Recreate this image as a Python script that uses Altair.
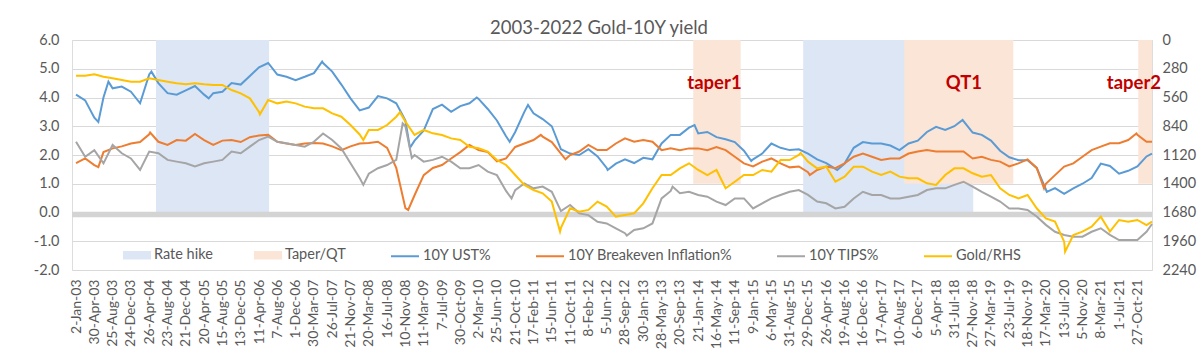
import altair as alt
import pandas as pd

# ---- data ----
# x position in "label steps": 0 = 2-Jan-03, 1 = 30-Apr-03, ... (one step per axis label)
T = [i * 0.5 for i in range(118)] + [58.8]

UST = [4.10, 3.90, 3.30, 4.00, 4.32, 4.38, 4.20, 3.80, 4.80, 4.50,
       4.15, 4.10, 4.25, 4.40, 4.10, 4.15, 4.20, 4.50, 4.45, 4.75,
       5.05, 5.20, 4.80, 4.72, 4.60, 4.72, 4.85, 5.20, 4.90, 4.45,
       3.97, 3.55, 3.65, 4.05, 3.97, 3.80, 3.20, 2.50, 2.85, 3.60,
       3.75, 3.50, 3.70, 3.80, 3.95, 3.60, 3.20, 2.65, 2.80, 3.50,
       3.45, 3.25, 3.00, 2.20, 2.05, 2.00, 2.20, 1.95, 1.55, 1.70,
       1.85, 1.72, 1.90, 1.85, 2.40, 2.70, 2.70, 2.95, 2.75, 2.80,
       2.62, 2.55, 2.45, 2.15, 1.85, 2.05, 2.40, 2.25, 2.17, 2.20,
       2.05, 1.85, 1.72, 1.52, 1.70, 2.25, 2.45, 2.40, 2.40, 2.33,
       2.17, 2.40, 2.50, 2.80, 2.98, 2.87, 3.00, 3.18, 2.78, 2.70,
       2.50, 2.15, 1.92, 1.82, 1.82, 1.55, 0.80, 0.85, 0.65, 0.84,
       1.00, 1.20, 1.70, 1.62, 1.35, 1.45, 1.60, 1.95, 2.05]
UST_PEAK_T = [1.22, 1.77, 4.12, 7.25, 13.45, 18.25, 21.9, 23.7, 24.7, 29.05, 33.8, 36.9, 41.6, 48.45, 53.05]
UST_PEAK_V = [3.15, 4.55, 4.90, 3.97, 5.25, 2.25, 4.00, 2.46, 3.74, 1.48, 3.04, 1.79, 1.48, 3.22, 0.72]

BEI = [1.72, 1.88, 1.65, 2.10, 2.23, 2.30, 2.40, 2.45, 2.72, 2.46,
       2.35, 2.52, 2.50, 2.73, 2.52, 2.35, 2.50, 2.52, 2.45, 2.62,
       2.68, 2.70, 2.46, 2.40, 2.35, 2.40, 2.42, 2.40, 2.30, 2.17,
       2.30, 2.40, 2.42, 2.46, 2.25, 1.55, 0.15, 0.60, 1.30, 1.55,
       1.65, 1.88, 2.10, 2.35, 2.17, 2.10, 1.78, 1.88, 2.28, 2.40,
       2.52, 2.64, 2.45, 2.05, 2.00, 2.12, 2.35, 2.17, 2.17, 2.40,
       2.58, 2.46, 2.52, 2.46, 2.17, 2.23, 2.17, 2.23, 2.23, 2.17,
       2.28, 2.17, 1.94, 1.71, 1.60, 1.77, 1.88, 1.71, 1.57, 1.60,
       1.40, 1.48, 1.60, 1.54, 1.71, 1.94, 2.05, 1.94, 1.83, 1.88,
       1.88, 2.05, 2.12, 2.17, 2.12, 2.12, 2.12, 2.12, 1.88, 1.94,
       1.83, 1.77, 1.60, 1.71, 1.85, 1.55, 1.00, 1.30, 1.60, 1.71,
       1.94, 2.17, 2.29, 2.41, 2.41, 2.52, 2.70, 2.46, 2.46]
BEI_PEAK_T = [1.22, 4.05, 18.15, 25.4, 26.75, 40.1, 52.9, 57.95]
BEI_PEAK_V = [1.58, 2.78, 0.09, 2.70, 1.85, 1.30, 0.84, 2.75]

TIPS = [2.46, 1.94, 2.17, 1.71, 2.35, 2.06, 1.88, 1.48, 2.12, 2.06,
        1.83, 1.77, 1.71, 1.60, 1.71, 1.77, 1.83, 2.12, 2.06, 2.29,
        2.52, 2.64, 2.46, 2.41, 2.35, 2.29, 2.46, 2.75, 2.52, 2.23,
        1.71, 1.20, 1.35, 1.54, 1.65, 1.83, 3.00, 2.00, 1.77, 1.83,
        1.94, 1.77, 1.54, 1.54, 1.65, 1.42, 1.30, 0.75, 0.78, 1.01,
        0.84, 0.90, 0.72, 0.05, 0.26, -0.03, -0.09, -0.32, -0.38, -0.55,
        -0.72, -0.61, -0.55, -0.38, 0.49, 0.75, 0.67, 0.72, 0.61, 0.55,
        0.38, 0.26, 0.49, 0.49, 0.14, 0.32, 0.49, 0.61, 0.72, 0.78,
        0.61, 0.38, 0.32, 0.14, 0.20, 0.49, 0.72, 0.61, 0.61, 0.49,
        0.49, 0.55, 0.61, 0.78, 0.84, 0.84, 0.96, 1.07, 0.90, 0.72,
        0.55, 0.38, 0.14, 0.14, 0.09, -0.14, -0.43, -0.67, -0.78, -0.84,
        -0.84, -0.67, -0.55, -0.78, -0.96, -0.96, -0.96, -0.67, -0.40]
TIPS_PEAK_T = [15.7, 17.85, 18.35, 23.8, 30.1, 32.6]
TIPS_PEAK_V = [0.96, 3.10, 1.90, 0.49, -0.80, 0.90]

GOLD = [347, 347, 334, 357, 373, 390, 406, 406, 373, 390,
        406, 422, 432, 422, 432, 438, 438, 487, 519, 568,
        700, 584, 617, 600, 617, 649, 665, 665, 714, 747,
        828, 920, 876, 876, 828, 747, 795, 925, 876, 909,
        925, 958, 974, 1039, 1055, 1087, 1169, 1217, 1315, 1412,
        1461, 1493, 1574, 1830, 1639, 1672, 1655, 1574, 1623, 1720,
        1704, 1688, 1591, 1444, 1315, 1315, 1250, 1201, 1266, 1315,
        1266, 1444, 1380, 1315, 1315, 1266, 1282, 1169, 1169, 1120,
        1185, 1250, 1234, 1380, 1331, 1234, 1234, 1282, 1315, 1282,
        1331, 1347, 1347, 1396, 1412, 1315, 1250, 1250, 1298, 1331,
        1315, 1444, 1509, 1542, 1509, 1639, 1737, 1769, 1964, 1899,
        1866, 1818, 1720, 1866, 1753, 1769, 1753, 1802, 1769]
GOLD_PEAK_T = [10.05, 15.7, 17.7, 26.45, 39.6, 54.05]
GOLD_PEAK_V = [724, 974, 704, 1866, 1100, 2061]

LABELS = ["2-Jan-03", "30-Apr-03", "25-Aug-03", "24-Dec-03", "26-Apr-04", "23-Aug-04",
          "21-Dec-04", "20-Apr-05", "15-Aug-05", "13-Dec-05", "11-Apr-06", "7-Aug-06",
          "1-Dec-06", "30-Mar-07", "26-Jul-07", "21-Nov-07", "20-Mar-08", "16-Jul-08",
          "10-Nov-08", "11-Mar-09", "7-Jul-09", "30-Oct-09", "2-Mar-10", "25-Jun-10",
          "21-Oct-10", "17-Feb-11", "15-Jun-11", "11-Oct-11", "8-Feb-12", "5-Jun-12",
          "28-Sep-12", "30-Jan-13", "28-May-13", "20-Sep-13", "21-Jan-14", "16-May-14",
          "11-Sep-14", "9-Jan-15", "6-May-15", "31-Aug-15", "29-Dec-15", "26-Apr-16",
          "19-Aug-16", "16-Dec-16", "17-Apr-17", "10-Aug-17", "6-Dec-17", "5-Apr-18",
          "31-Jul-18", "27-Nov-18", "27-Mar-19", "23-Jul-19", "18-Nov-19", "17-Mar-20",
          "13-Jul-20", "5-Nov-20", "8-Mar-21", "1-Jul-21", "27-Oct-21"]

BAND_TYPE = ["Rate hike", "Taper/QT", "Rate hike", "Taper/QT", "Taper/QT"]
BAND_START = [4.37, 33.73, 39.74, 45.26, 58.05]
BAND_END = [10.55, 36.32, 49.03, 51.22, 58.8]
BAND_TOP = [6, 6, 6, 6, 6]
BAND_BOTTOM = [0, 1, 0, 1, 1]

ANN_TEXT = ["taper1", "QT1", "taper2"]
ANN_T = [34.89, 48.52, 57.81]
ANN_Y = [4.5, 4.5, 4.5]

SERIES = ["10Y UST%", "10Y Breakeven Inflation%", "10Y TIPS%", "Gold/RHS"]
COLORS = ["#5b9bd5", "#ed7d31", "#a5a5a5", "#ffc000"]


# ---- tables ----
def series_frame(name, values, peak_t, peak_v):
    df = pd.DataFrame({"t": T + peak_t, "value": values + peak_v})
    df["series"] = name
    return df.sort_values("t").reset_index(drop=True)


lines_df = pd.concat([
    series_frame(SERIES[0], UST, UST_PEAK_T, UST_PEAK_V),
    series_frame(SERIES[1], BEI, BEI_PEAK_T, BEI_PEAK_V),
    series_frame(SERIES[2], TIPS, TIPS_PEAK_T, TIPS_PEAK_V),
], ignore_index=True)
gold_df = series_frame(SERIES[3], GOLD, GOLD_PEAK_T, GOLD_PEAK_V)
bands_df = pd.DataFrame({"type": BAND_TYPE, "start": BAND_START, "end": BAND_END,
                         "top": BAND_TOP, "bottom": BAND_BOTTOM})
ann_df = pd.DataFrame({"label": ANN_TEXT, "t": ANN_T, "y": ANN_Y})
zero_df = pd.DataFrame({"value": [0]})

FONT = "Lato"
GREY = "#595959"

label_expr = "[" + ",".join("'%s'" % s for s in LABELS) + "][datum.value]"
x_scale = alt.Scale(domain=[-0.22, 58.8], nice=False, zero=False)
x_axis = alt.Axis(values=list(range(len(LABELS))), labelExpr=label_expr, labelAngle=-90,
                  ticks=False, domain=False, grid=False, labelPadding=9, title=None,
                  labelFontSize=14, labelColor=GREY, labelFont=FONT, labelOverlap=False,
                  labelFlush=False)

y_scale = alt.Scale(domain=[-2, 6], nice=False, zero=False)
y_axis = alt.Axis(values=[-2, -1, 0, 1, 2, 3, 4, 5, 6], orient="left",
                  labelExpr="datum.value < 0 ? '-' + format(-datum.value, '.1f') : format(datum.value, '.1f')",
                  grid=True, gridColor="#d9d9d9", gridWidth=1, ticks=False, domain=False,
                  labelPadding=13, title=None, labelFontSize=14.5, labelColor=GREY, labelFont=FONT)

bands = alt.Chart(bands_df).mark_rect().encode(
    x=alt.X("start:Q", scale=x_scale, axis=x_axis),
    x2="end:Q",
    y=alt.Y("top:Q", scale=y_scale, axis=y_axis),
    y2="bottom:Q",
    fill=alt.Fill("type:N",
                  scale=alt.Scale(domain=["Rate hike", "Taper/QT"], range=["#dce6f4", "#fbe5d6"]),
                  legend=alt.Legend(title=None, orient="none", legendX=51, legendY=201,
                                    direction="horizontal",
                                    symbolType="M-1,-0.3L1,-0.3L1,0.3L-1,0.3Z",
                                    symbolSize=784, symbolStrokeWidth=0,
                                    labelFontSize=14.5, labelColor=GREY, labelFont=FONT,
                                    labelLimit=0, columnPadding=41, labelOffset=3, padding=0)),
)

zero_rule = alt.Chart(zero_df).mark_rule(color="#d4d4d4", strokeWidth=5.5, yOffset=2).encode(
    y=alt.Y("value:Q", scale=y_scale, axis=y_axis)
)

color_enc = alt.Color("series:N", scale=alt.Scale(domain=SERIES, range=COLORS),
                      legend=alt.Legend(title=None, orient="none", legendX=318, legendY=201,
                                        direction="horizontal", symbolType="stroke",
                                        symbolSize=784, symbolStrokeWidth=2,
                                        labelFontSize=14.5, labelColor=GREY, labelFont=FONT,
                                        labelLimit=0, columnPadding=40, labelOffset=3,
                                        padding=0))

lines = alt.Chart(lines_df).mark_line(strokeWidth=2).encode(
    x=alt.X("t:Q", scale=x_scale, axis=x_axis),
    y=alt.Y("value:Q", scale=y_scale, axis=y_axis),
    color=color_enc,
)

ann = alt.Chart(ann_df).mark_text(font=FONT, fontWeight="bold", fontSize=18.5,
                                  color="#c00000", baseline="middle", align="center").encode(
    x=alt.X("t:Q", scale=x_scale, axis=x_axis),
    y=alt.Y("y:Q", scale=y_scale, axis=y_axis),
    text="label:N",
)

gold = alt.Chart(gold_df).mark_line(strokeWidth=2).encode(
    x=alt.X("t:Q", scale=x_scale, axis=x_axis),
    y=alt.Y("value:Q",
            scale=alt.Scale(domain=[0, 2240], reverse=True, nice=False, zero=False),
            axis=alt.Axis(orient="right", values=[0, 280, 560, 840, 1120, 1400, 1680, 1960, 2240],
                          format="d", grid=False, ticks=False, domain=False, labelPadding=10,
                          title=None, labelFontSize=14.5, labelColor=GREY, labelFont=FONT)),
    color=color_enc,
)

left = alt.layer(bands, zero_rule, lines, ann)

chart = alt.layer(left, gold).resolve_scale(y="independent").properties(
    width=1080,
    height=230,
    padding={"left": 72, "top": 40, "right": 48, "bottom": 84},
    autosize=alt.AutoSizeParams(type="none"),
    title=alt.TitleParams("2003-2022 Gold-10Y yield", font=FONT, fontSize=18.5,
                          fontWeight="normal", color=GREY, anchor="middle", offset=-5, dx=-13),
).configure_view(stroke=None).configure(background="white")

chart.save("out.html", embed_options={"renderer": "svg", "actions": False})
